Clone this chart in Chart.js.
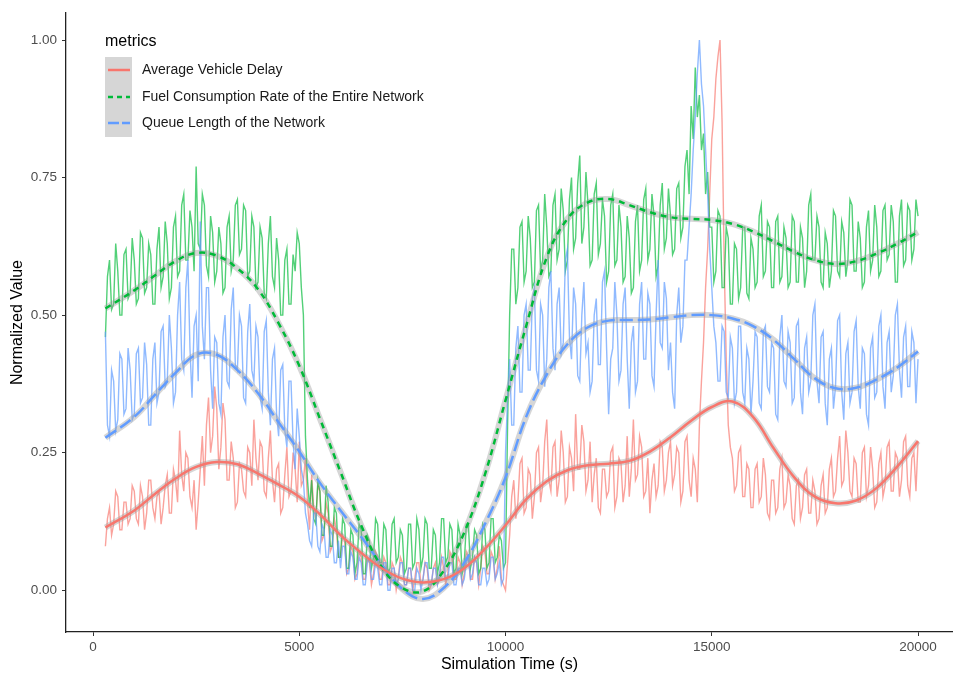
<!DOCTYPE html>
<html><head><meta charset="utf-8">
<script src="https://cdn.jsdelivr.net/npm/chart.js@4"></script>
<style>html,body{margin:0;padding:0;background:#fff;overflow:hidden}</style>
</head><body>
<canvas id="c" width="953" height="675" style="display:block"></canvas>
<script>
// ---------- data ----------
const timeSec = [
300,350,400,450,500,550,600,650,700,750,800,850,900,950,
1000,1050,1100,1150,1200,1250,1300,1350,1400,1450,1500,1550,1600,1650,1700,1750,1800,1850,1900,1950,
2000,2050,2100,2150,2200,2250,2300,2350,2400,2450,2500,2550,2600,2650,2700,2750,2800,2850,2900,2950,
3000,3050,3100,3150,3200,3250,3300,3350,3400,3450,3500,3550,3600,3650,3700,3750,3800,3850,3900,3950,
4000,4050,4100,4150,4200,4250,4300,4350,4400,4450,4500,4550,4600,4650,4700,4750,4800,4850,4900,4950,
5000,5050,5100,5150,5200,5250,5300,5350,5400,5450,5500,5550,5600,5650,5700,5750,5800,5850,5900,5950,
6000,6050,6100,6150,6200,6250,6300,6350,6400,6450,6500,6550,6600,6650,6700,6750,6800,6850,6900,6950,
7000,7050,7100,7150,7200,7250,7300,7350,7400,7450,7500,7550,7600,7650,7700,7750,7800,7850,7900,7950,
8000,8050,8100,8150,8200,8250,8300,8350,8400,8450,8500,8550,8600,8650,8700,8750,8800,8850,8900,8950,
9000,9050,9100,9150,9200,9250,9300,9350,9400,9450,9500,9550,9600,9650,9700,9750,9800,9850,9900,9950,
10000,10050,10100,10150,10200,10250,10300,10350,10400,10450,10500,10550,10600,10650,10700,10750,10800,10850,10900,10950,
11000,11050,11100,11150,11200,11250,11300,11350,11400,11450,11500,11550,11600,11650,11700,11750,11800,11850,11900,11950,
12000,12050,12100,12150,12200,12250,12300,12350,12400,12450,12500,12550,12600,12650,12700,12750,12800,12850,12900,12950,
13000,13050,13100,13150,13200,13250,13300,13350,13400,13450,13500,13550,13600,13650,13700,13750,13800,13850,13900,13950,
14000,14050,14100,14150,14200,14250,14300,14350,14400,14450,14500,14550,14600,14650,14700,14750,14800,14850,14900,14950,
15000,15050,15100,15150,15200,15250,15300,15350,15400,15450,15500,15550,15600,15650,15700,15750,15800,15850,15900,15950,
16000,16050,16100,16150,16200,16250,16300,16350,16400,16450,16500,16550,16600,16650,16700,16750,16800,16850,16900,16950,
17000,17050,17100,17150,17200,17250,17300,17350,17400,17450,17500,17550,17600,17650,17700,17750,17800,17850,17900,17950,
18000,18050,18100,18150,18200,18250,18300,18350,18400,18450,18500,18550,18600,18650,18700,18750,18800,18850,18900,18950,
19000,19050,19100,19150,19200,19250,19300,19350,19400,19450,19500,19550,19600,19650,19700,19750,19800,19850,19900,19950,
20000];

const delayValues = [
0.08,0.13,0.15,0.1,0.12,0.18,0.17,0.11,0.11,0.16,0.16,0.12,0.13,0.19,
0.18,0.13,0.12,0.19,0.17,0.11,0.14,0.2,0.2,0.15,0.13,0.17,0.18,0.12,0.15,0.19,0.21,0.14,0.14,0.22,
0.2,0.16,0.29,0.21,0.18,0.25,0.24,0.17,0.15,0.2,0.11,0.16,0.22,0.28,0.19,0.3,0.35,0.25,0.28,0.37,
0.33,0.22,0.26,0.34,0.31,0.2,0.2,0.27,0.24,0.15,0.16,0.23,0.22,0.18,0.17,0.26,0.25,0.19,0.31,0.24,
0.2,0.27,0.26,0.18,0.17,0.24,0.29,0.2,0.16,0.22,0.23,0.14,0.15,0.21,0.26,0.17,0.18,0.25,0.22,0.16,
0.27,0.19,0.2,0.24,0.16,0.11,0.21,0.15,0.13,0.19,0.18,0.09,0.1,0.16,0.14,0.07,0.08,0.13,0.11,0.06,
0.06,0.1,0.09,0.03,0.04,0.08,0.07,0.02,0.03,0.07,0.06,0.02,0.02,0.06,0.05,0.01,0.03,0.07,0.06,0.02,
0.02,0.06,0.05,0.01,0.01,0.05,0.04,0.0,0.02,0.06,0.05,0.01,0.01,0.04,0.04,0.0,0.02,0.05,0.05,0.01,
0.02,0.05,0.04,0.0,0.01,0.04,0.05,0.01,0.02,0.06,0.04,0.01,0.03,0.07,0.06,0.02,0.02,0.06,0.05,0.01,
0.03,0.07,0.06,0.02,0.02,0.06,0.05,0.01,0.04,0.08,0.07,0.03,0.03,0.07,0.06,0.02,0.04,0.08,0.02,0.01,
0.0,0.05,0.1,0.17,0.2,0.13,0.16,0.23,0.24,0.14,0.15,0.22,0.21,0.13,0.17,0.25,0.26,0.16,0.19,0.27,
0.31,0.2,0.18,0.26,0.27,0.17,0.2,0.29,0.25,0.16,0.17,0.26,0.24,0.18,0.32,0.22,0.22,0.3,0.27,0.18,
0.2,0.27,0.16,0.21,0.24,0.15,0.14,0.22,0.22,0.17,0.18,0.25,0.26,0.15,0.17,0.24,0.23,0.16,0.19,0.28,
0.17,0.22,0.31,0.2,0.21,0.28,0.26,0.17,0.18,0.24,0.14,0.2,0.23,0.17,0.19,0.27,0.26,0.18,0.2,0.25,
0.27,0.19,0.21,0.26,0.25,0.16,0.18,0.27,0.28,0.2,0.17,0.24,0.22,0.16,0.3,0.38,0.45,0.55,0.62,0.72,
0.82,0.86,0.93,0.97,1.0,0.85,0.6,0.42,0.3,0.26,0.24,0.18,0.19,0.25,0.26,0.17,0.17,0.23,0.22,0.15,
0.15,0.22,0.23,0.16,0.17,0.24,0.21,0.14,0.13,0.2,0.2,0.14,0.15,0.22,0.24,0.15,0.16,0.21,0.19,0.13,
0.12,0.19,0.2,0.13,0.15,0.21,0.22,0.14,0.14,0.2,0.18,0.12,0.13,0.19,0.21,0.14,0.15,0.22,0.24,0.17,
0.18,0.24,0.28,0.19,0.2,0.29,0.25,0.18,0.17,0.24,0.23,0.16,0.16,0.25,0.26,0.17,0.19,0.26,0.22,0.15,
0.16,0.23,0.25,0.17,0.19,0.26,0.27,0.18,0.18,0.25,0.24,0.17,0.2,0.27,0.28,0.19,0.17,0.24,0.25,0.18,
0.27];

const fuelValues = [
0.46,0.57,0.6,0.51,0.52,0.63,0.58,0.5,0.5,0.61,0.62,0.53,0.54,0.64,
0.6,0.52,0.53,0.65,0.64,0.54,0.55,0.63,0.61,0.52,0.52,0.62,0.66,0.55,0.57,0.67,0.63,0.53,0.55,0.66,
0.68,0.57,0.58,0.7,0.72,0.6,0.6,0.69,0.66,0.58,0.77,0.63,0.62,0.72,0.7,0.59,0.57,0.68,0.65,0.56,
0.58,0.66,0.63,0.54,0.55,0.66,0.68,0.58,0.6,0.7,0.71,0.61,0.62,0.7,0.69,0.57,0.58,0.68,0.66,0.55,
0.56,0.66,0.64,0.54,0.53,0.63,0.68,0.57,0.55,0.64,0.6,0.5,0.5,0.6,0.62,0.52,0.52,0.61,0.58,0.65,
0.63,0.55,0.5,0.28,0.2,0.15,0.2,0.13,0.12,0.2,0.18,0.1,0.1,0.19,0.16,0.08,0.08,0.15,0.14,0.06,
0.06,0.13,0.12,0.04,0.04,0.11,0.1,0.03,0.05,0.12,0.11,0.03,0.03,0.1,0.09,0.04,0.06,0.13,0.12,0.05,
0.05,0.12,0.11,0.03,0.04,0.12,0.13,0.05,0.06,0.11,0.1,0.03,0.04,0.12,0.12,0.04,0.05,0.13,0.11,0.04,
0.06,0.13,0.12,0.04,0.04,0.11,0.1,0.03,0.05,0.13,0.13,0.05,0.06,0.12,0.11,0.03,0.04,0.12,0.1,0.03,
0.05,0.12,0.12,0.04,0.06,0.11,0.1,0.03,0.04,0.12,0.11,0.04,0.05,0.13,0.13,0.05,0.06,0.1,0.09,0.04,
0.05,0.3,0.5,0.62,0.62,0.52,0.55,0.66,0.67,0.56,0.58,0.68,0.64,0.55,0.56,0.69,0.7,0.58,0.6,0.72,
0.66,0.57,0.58,0.7,0.72,0.6,0.62,0.73,0.69,0.58,0.6,0.71,0.75,0.62,0.64,0.74,0.79,0.63,0.66,0.76,
0.7,0.59,0.6,0.72,0.74,0.61,0.63,0.71,0.68,0.56,0.58,0.7,0.72,0.59,0.6,0.7,0.66,0.56,0.57,0.68,
0.64,0.54,0.55,0.67,0.7,0.58,0.6,0.71,0.73,0.6,0.62,0.72,0.68,0.57,0.59,0.7,0.74,0.62,0.64,0.73,
0.68,0.61,0.62,0.73,0.74,0.64,0.66,0.77,0.8,0.72,0.88,0.82,0.95,0.86,0.9,0.8,0.83,0.72,0.76,0.66,
0.66,0.56,0.58,0.69,0.68,0.55,0.55,0.66,0.64,0.52,0.52,0.63,0.62,0.53,0.55,0.66,0.66,0.54,0.53,0.64,
0.62,0.55,0.56,0.68,0.7,0.57,0.58,0.67,0.66,0.55,0.55,0.67,0.68,0.56,0.57,0.66,0.64,0.55,0.56,0.68,
0.67,0.56,0.56,0.66,0.64,0.55,0.58,0.7,0.72,0.6,0.6,0.68,0.66,0.56,0.55,0.65,0.63,0.55,0.58,0.69,
0.68,0.58,0.57,0.67,0.65,0.57,0.6,0.71,0.7,0.58,0.58,0.67,0.64,0.55,0.56,0.66,0.69,0.58,0.6,0.7,
0.66,0.57,0.58,0.69,0.7,0.6,0.61,0.7,0.67,0.56,0.56,0.68,0.71,0.59,0.6,0.7,0.69,0.6,0.62,0.71,
0.68];

const queueValues = [
0.47,0.3,0.28,0.4,0.38,0.29,0.31,0.43,0.42,0.32,0.33,0.44,0.4,0.31,
0.32,0.43,0.44,0.34,0.35,0.45,0.41,0.3,0.3,0.42,0.45,0.34,0.36,0.47,0.48,0.37,0.38,0.5,0.44,0.34,
0.36,0.5,0.56,0.42,0.4,0.55,0.6,0.44,0.35,0.48,0.5,0.38,0.67,0.48,0.42,0.55,0.55,0.4,0.33,0.46,
0.45,0.34,0.32,0.46,0.5,0.38,0.37,0.51,0.55,0.41,0.4,0.5,0.48,0.35,0.34,0.47,0.52,0.4,0.38,0.48,
0.46,0.35,0.33,0.47,0.49,0.36,0.3,0.42,0.44,0.32,0.28,0.4,0.41,0.29,0.26,0.38,0.38,0.27,0.22,0.33,
0.28,0.22,0.2,0.14,0.12,0.09,0.08,0.14,0.14,0.08,0.07,0.12,0.11,0.06,0.06,0.11,0.1,0.05,0.05,0.09,
0.04,0.08,0.08,0.03,0.03,0.07,0.06,0.02,0.02,0.06,0.05,0.01,0.01,0.05,0.06,0.02,0.02,0.05,0.04,0.01,
0.01,0.05,0.05,0.0,0.0,0.04,0.04,0.01,0.02,0.05,0.05,0.01,0.01,0.04,0.04,0.0,0.0,0.04,0.03,0.0,
0.02,0.05,0.05,0.01,0.01,0.04,0.04,0.01,0.03,0.06,0.06,0.02,0.02,0.05,0.05,0.01,0.01,0.04,0.04,0.01,
0.02,0.05,0.06,0.02,0.03,0.06,0.05,0.01,0.01,0.04,0.04,0.01,0.02,0.06,0.06,0.02,0.03,0.05,0.01,0.02,
0.25,0.35,0.42,0.3,0.3,0.44,0.48,0.36,0.36,0.5,0.52,0.4,0.4,0.53,0.55,0.4,0.38,0.52,0.5,0.37,
0.42,0.55,0.58,0.44,0.4,0.52,0.55,0.43,0.45,0.6,0.62,0.46,0.42,0.55,0.52,0.39,0.38,0.5,0.56,0.43,
0.45,0.36,0.38,0.5,0.53,0.41,0.41,0.56,0.58,0.44,0.32,0.42,0.44,0.56,0.5,0.38,0.4,0.52,0.55,0.42,
0.33,0.45,0.48,0.36,0.38,0.52,0.56,0.42,0.42,0.54,0.52,0.39,0.37,0.5,0.6,0.45,0.44,0.56,0.53,0.4,
0.45,0.36,0.33,0.5,0.55,0.45,0.48,0.6,0.6,0.66,0.72,0.8,0.86,0.94,1.0,0.92,0.88,0.8,0.72,0.62,
0.55,0.48,0.45,0.38,0.38,0.48,0.47,0.36,0.35,0.46,0.44,0.34,0.36,0.48,0.48,0.36,0.34,0.44,0.42,0.32,
0.38,0.47,0.46,0.34,0.33,0.47,0.48,0.37,0.36,0.45,0.44,0.32,0.31,0.46,0.5,0.38,0.37,0.47,0.45,0.34,
0.35,0.48,0.49,0.36,0.32,0.44,0.46,0.36,0.38,0.5,0.52,0.38,0.34,0.46,0.47,0.34,0.3,0.42,0.44,0.33,
0.37,0.49,0.5,0.36,0.31,0.43,0.45,0.34,0.36,0.47,0.49,0.37,0.33,0.44,0.43,0.32,0.3,0.44,0.46,0.35,
0.36,0.48,0.5,0.37,0.33,0.45,0.47,0.36,0.39,0.5,0.52,0.4,0.35,0.46,0.48,0.37,0.37,0.47,0.45,0.34,
0.42];

// smoothed (loess) curves
const smoothTime = [300,1000,1500,2000,2500,3000,3500,4000,4500,5000,5500,6000,6500,7000,7500,8000,8500,9000,9500,10000,
10500,11000,11500,12000,12500,13000,13500,14000,14500,15000,15500,16000,16500,17000,17500,18000,18500,19000,19500,20000];
const delaySmooth = [0.114,0.145,0.175,0.203,0.224,0.233,0.229,0.212,0.192,0.170,0.138,0.100,0.068,0.040,0.021,0.014,0.020,0.040,0.075,0.118,
0.165,0.198,0.218,0.227,0.230,0.235,0.252,0.278,0.308,0.333,0.343,0.315,0.258,0.205,0.170,0.158,0.163,0.186,0.225,0.271];
const fuelSmooth = [0.512,0.545,0.572,0.598,0.613,0.608,0.585,0.547,0.485,0.408,0.312,0.215,0.118,0.042,0.004,-0.002,0.035,0.105,0.210,0.345,
0.480,0.605,0.675,0.705,0.711,0.700,0.687,0.678,0.675,0.673,0.666,0.652,0.634,0.615,0.600,0.593,0.598,0.612,0.630,0.651];
const queueSmooth = [0.277,0.315,0.355,0.395,0.428,0.428,0.400,0.358,0.305,0.252,0.195,0.145,0.097,0.046,0.002,-0.016,0.004,0.050,0.120,0.205,
0.315,0.392,0.447,0.478,0.490,0.491,0.492,0.496,0.500,0.500,0.494,0.480,0.455,0.420,0.385,0.367,0.368,0.383,0.405,0.434];

const xTicks = [0,5000,10000,15000,20000];
const yTicks = [0,0.25,0.5,0.75,1];
const seriesNames = ['Average Vehicle Delay','Fuel Consumption Rate of the Entire Network','Queue Length of the Network'];
const legendTitle = 'metrics';

// ---------- styles ----------
const FONT = '"Liberation Sans", Arial, Helvetica, sans-serif';
const colRed = '#F8766D', colGreen = '#00BA38', colBlue = '#619CFF';
const dashes = [[], [6,5], [13,5]];

function pts(xs, ys){ return xs.map((t,i)=>({x:t, y:ys[i]})); }

const noiseDs = (vals, color, order) => ({
  data: pts(timeSec, vals), borderColor: color, borderWidth: 1.4,
  pointRadius: 0, tension: 0, fill: false, order
});
const bandDs = (vals) => ({
  data: pts(smoothTime, vals), borderColor: 'rgba(153,153,153,0.4)', borderWidth: 6,
  pointRadius: 0, tension: 0.4, fill: false, order: 2
});
const smoothDs = (vals, color, dash) => ({
  data: pts(smoothTime, vals), borderColor: color, borderWidth: 2.5, borderDash: dash,
  pointRadius: 0, tension: 0.4, fill: false, order: 1
});

const legendPlugin = {
  id: 'ggLegend',
  afterDraw(chart){
    const ctx = chart.ctx;
    ctx.save();
    ctx.textBaseline = 'middle';
    ctx.textAlign = 'left';
    ctx.fillStyle = '#000';
    ctx.font = '16px ' + FONT;
    ctx.fillText(legendTitle, 105, 42);
    ctx.fillStyle = '#d6d6d6';
    ctx.fillRect(105, 57, 27, 80);
    const rows = [70, 97, 123];
    const cols = [colRed, colGreen, colBlue];
    rows.forEach((y, i) => {
      ctx.beginPath();
      ctx.strokeStyle = cols[i];
      ctx.lineWidth = 2.5;
      ctx.setLineDash(i === 1 ? [5,4] : (i === 2 ? [11,3] : []));
      ctx.moveTo(108, y); ctx.lineTo(130, y);
      ctx.stroke();
      ctx.setLineDash([]);
      ctx.fillStyle = '#1a1a1a';
      ctx.font = '14px ' + FONT;
      ctx.fillText(seriesNames[i], 142, y);
    });
    ctx.restore();
  }
};

new Chart(document.getElementById('c'), {
  type: 'line',
  data: {
    datasets: [
      smoothDs(delaySmooth, colRed, dashes[0]),
      smoothDs(fuelSmooth, colGreen, dashes[1]),
      smoothDs(queueSmooth, colBlue, dashes[2]),
      bandDs(delaySmooth), bandDs(fuelSmooth), bandDs(queueSmooth),
      noiseDs(queueValues, 'rgba(97,156,255,0.7)', 3),
      noiseDs(fuelValues, 'rgba(0,186,56,0.68)', 4),
      noiseDs(delayValues, 'rgba(248,118,109,0.68)', 5)
    ]
  },
  options: {
    responsive: false, animation: false, devicePixelRatio: 1,
    layout: { padding: { top: 10, left: 0, right: 0, bottom: 0 } },
    plugins: { legend: { display: false }, tooltip: { enabled: false } },
    scales: {
      x: {
        type: 'linear', min: -655, max: 20848,
        afterBuildTicks: s => { s.ticks = xTicks.map(v => ({ value: v })); },
        afterFit: s => { s.height = 43; },
        grid: { display: true, drawOnChartArea: false, drawTicks: true, tickLength: 4, color: '#333', lineWidth: 1 },
        border: { display: true, color: '#222', width: 1.3 },
        ticks: { color: '#4d4d4d', font: { size: 13.5, family: FONT }, padding: 3, maxRotation: 0, autoSkip: false,
                 callback: v => String(v) },
        title: { display: true, text: 'Simulation Time (s)', color: '#000', font: { size: 16, family: FONT },
                 padding: { top: 0, bottom: 1 } }
      },
      y: {
        type: 'linear', min: -0.076, max: 1.049,
        afterBuildTicks: s => { s.ticks = yTicks.map(v => ({ value: v })); },
        afterFit: s => { s.width = 66; },
        grid: { display: true, drawOnChartArea: false, drawTicks: true, tickLength: 4, color: '#333', lineWidth: 1 },
        border: { display: true, color: '#222', width: 1.3 },
        ticks: { color: '#4d4d4d', font: { size: 13.5, family: FONT }, padding: 5, autoSkip: false,
                 callback: v => Number(v).toFixed(2) },
        title: { display: true, text: 'Normalized Value', color: '#000', font: { size: 16, family: FONT },
                 padding: { top: 8, bottom: 0 } }
      }
    }
  },
  plugins: [legendPlugin]
});
</script>
</body></html>
